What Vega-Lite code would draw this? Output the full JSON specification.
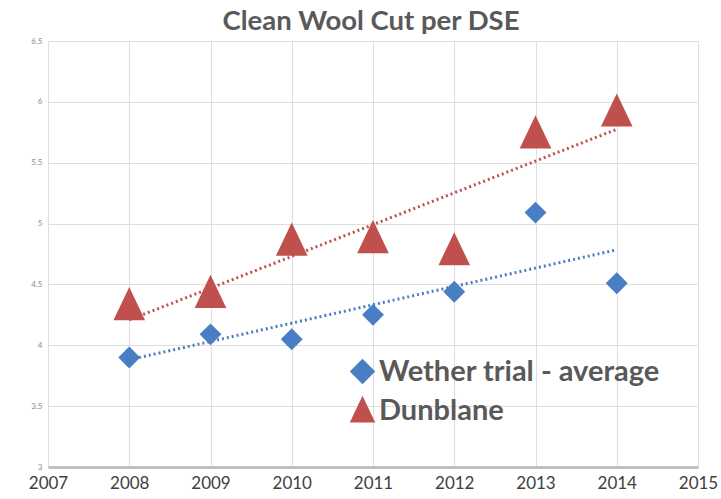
{
  "$schema": "https://vega.github.io/schema/vega-lite/v6.json",
  "autosize": "none",
  "width": 650,
  "height": 426,
  "padding": {"left": 48, "top": 41, "right": 23, "bottom": 32},
  "background": "white",
  "title": {"text": "Clean Wool Cut per DSE", "font": "Lato", "fontSize": 27.5, "fontWeight": "bold", "color": "#595959", "offset": 2, "dx": -2},
  "data": {"values": [
    {"year": 2008, "series": "Wether trial - average", "value": 3.90},
    {"year": 2009, "series": "Wether trial - average", "value": 4.09},
    {"year": 2010, "series": "Wether trial - average", "value": 4.05},
    {"year": 2011, "series": "Wether trial - average", "value": 4.25},
    {"year": 2012, "series": "Wether trial - average", "value": 4.44},
    {"year": 2013, "series": "Wether trial - average", "value": 5.09},
    {"year": 2014, "series": "Wether trial - average", "value": 4.51},
    {"year": 2008, "series": "Dunblane", "value": 4.33},
    {"year": 2009, "series": "Dunblane", "value": 4.43},
    {"year": 2010, "series": "Dunblane", "value": 4.86},
    {"year": 2011, "series": "Dunblane", "value": 4.88},
    {"year": 2012, "series": "Dunblane", "value": 4.78},
    {"year": 2013, "series": "Dunblane", "value": 5.74},
    {"year": 2014, "series": "Dunblane", "value": 5.92}
  ]},
  "encoding": {
    "x": {"field": "year", "type": "quantitative",
      "scale": {"domain": [2007, 2015], "nice": false, "zero": false},
      "axis": {"values": [2007, 2008, 2009, 2010, 2011, 2012, 2013, 2014, 2015], "format": "d", "title": null,
        "labelFont": "Lato", "labelFontSize": 17, "labelColor": "#404040", "labelPadding": 8, "labelFlush": false,
        "domainColor": "#c0c0c0", "domainWidth": 3, "ticks": false, "gridColor": "#dedede"}},
    "y": {"field": "value", "type": "quantitative",
      "scale": {"domain": [3, 6.5], "nice": false, "zero": false},
      "axis": {"values": [3, 3.5, 4, 4.5, 5, 5.5, 6, 6.5], "format": "~g", "title": null, "domain": false, "ticks": false,
        "labelFont": "Lato", "labelFontSize": 8, "labelColor": "#8a8a8a", "labelPadding": 6, "gridColor": "#dedede"}}
  },
  "layer": [
    {
      "transform": [{"regression": "value", "on": "year", "groupby": ["series"]}],
      "mark": {"type": "line", "strokeDash": [2, 3], "strokeWidth": 3, "strokeCap": "butt"},
      "encoding": {
        "detail": {"field": "series", "type": "nominal"},
        "stroke": {"condition": {"test": "datum.series === 'Dunblane'", "value": "#c0504d"}, "value": "#4a7ec4"}
      }
    },
    {
      "transform": [{"filter": "datum.series === 'Wether trial - average'"}],
      "mark": {"type": "point", "filled": true, "opacity": 1, "size": 480},
      "encoding": {
        "color": {"field": "series", "type": "nominal", "title": null,
          "scale": {"domain": ["Wether trial - average", "Dunblane"], "range": ["#4a7ec4", "#c0504d"]},
          "legend": {"orient": "none", "legendX": 300, "legendY": 316,
            "labelFont": "Lato", "labelFontSize": 29, "labelFontWeight": "bold", "labelColor": "#595959",
            "symbolSize": 650, "rowPadding": 8, "labelOffset": 2, "labelLimit": 400, "symbolOpacity": 1}},
        "shape": {"field": "series", "type": "nominal", "title": null,
          "scale": {"domain": ["Wether trial - average", "Dunblane"], "range": ["diamond", "M0,-1.15L1,0.95L-1,0.95Z"]}}
      }
    },
    {
      "transform": [{"filter": "datum.series === 'Dunblane'"}],
      "mark": {"type": "point", "filled": true, "opacity": 1, "size": 1000},
      "encoding": {
        "color": {"field": "series", "type": "nominal", "title": null},
        "shape": {"field": "series", "type": "nominal", "title": null}
      }
    }
  ],
  "config": {
    "view": {"stroke": null}
  }
}
